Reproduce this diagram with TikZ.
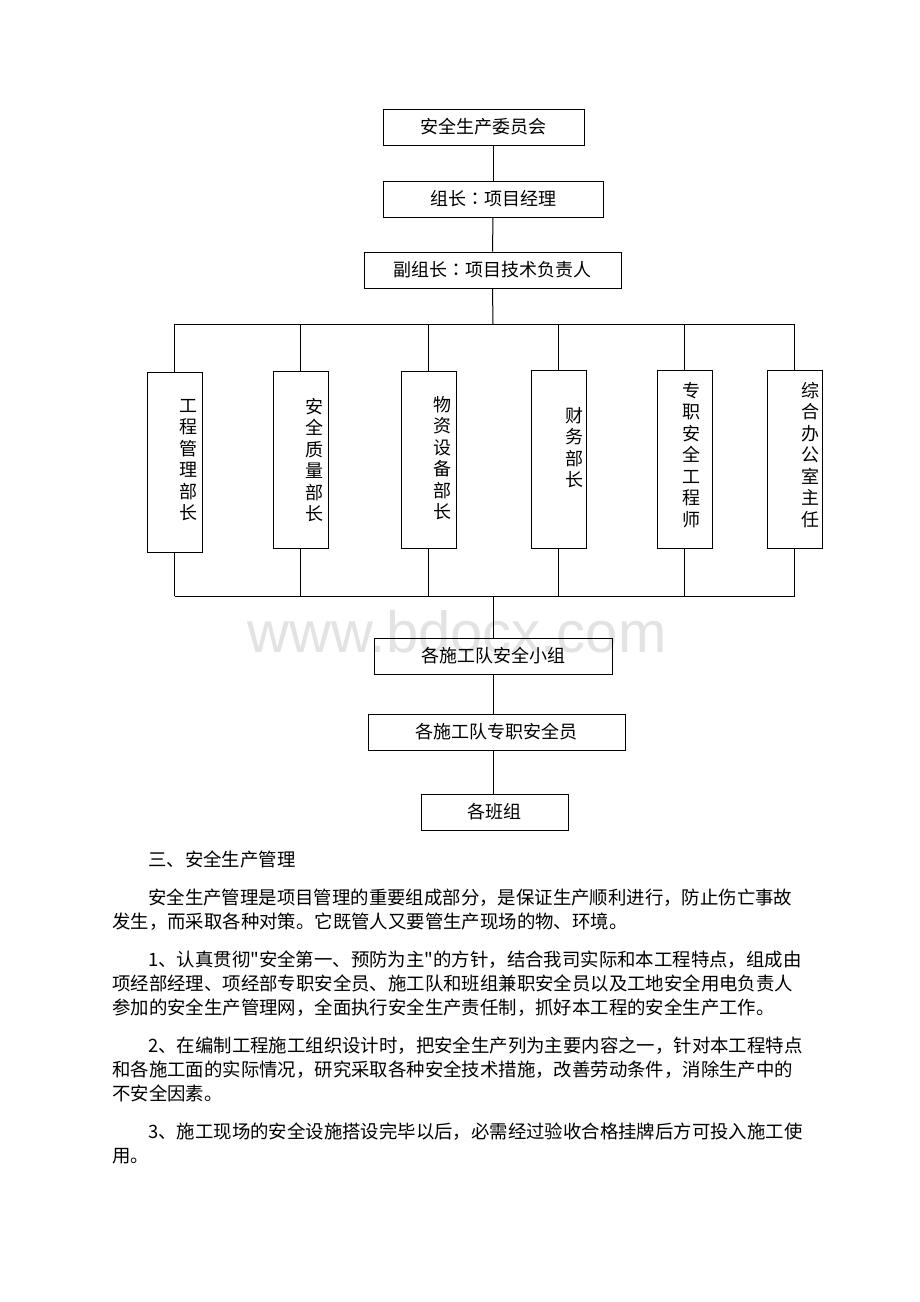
\documentclass[tikz,border=0pt]{standalone}
\usepackage{fontspec}
\newfontfamily\cjk{Noto Sans CJK SC}
\newfontfamily\cjktc{Noto Sans CJK TC}
\newfontfamily\wmfont{Liberation Sans}
\newcommand{\ccolon}{{\cjktc ：}}
\begin{document}
\begin{tikzpicture}[x=1pt,y=-1pt,
  box/.style={draw, line width=1pt, inner sep=0pt, font=\cjk\fontsize{18}{21}\selectfont, text height=15.8pt, text depth=2.2pt, minimum height=36pt},
  tallbox/.style={draw, line width=1pt, minimum width=55pt, inner sep=0pt},
  vlabel/.style={font=\cjk\fontsize{18}{21.5}\selectfont, align=center, inner sep=0pt},
  link/.style={line width=1pt},
  body/.style={anchor=base west, inner sep=0pt, font=\cjk\fontsize{18.4}{24}\selectfont},
  watermark/.style={text=black!11, font=\wmfont\fontsize{58}{58}\selectfont, anchor=base, inner sep=0pt}
]
\useasboundingbox (0,0) rectangle (920,1302);
\fill[white] (0,0) rectangle (920,1302);

\node[watermark] (wm) at (457,652) {www.bdocx.com};

% top chain
\node[box, minimum width=201pt] (c1) at (483.5,127) {安全生产委员会};
\node[box, minimum width=220pt] (c2) at (493,199) {组长\ccolon 项目经理};
\node[box, minimum width=257pt] (c3) at (492.5,270) {副组长\ccolon 项目技术负责人};

% tall boxes
\node[tallbox, minimum height=180pt] (t1) at (174.5,462.5) {};
\node[tallbox, minimum height=177pt] (t2) at (300.5,460) {};
\node[tallbox, minimum height=177pt] (t3) at (428.5,460) {};
\node[tallbox, minimum height=178pt] (t4) at (558.5,459.5) {};
\node[tallbox, minimum height=178pt] (t5) at (684.5,459.5) {};
\node[tallbox, minimum height=178pt] (t6) at (794.5,459.5) {};

\node[vlabel] (l1) at (188.5,460) {工\\程\\管\\理\\部\\长};
\node[vlabel] (l2) at (314,460) {安\\全\\质\\量\\部\\长};
\node[vlabel] (l3) at (442.5,458) {物\\资\\设\\备\\部\\长};
\node[vlabel] (l4) at (574,447.5) {财\\务\\部\\长};
\node[vlabel] (l5) at (691.5,455) {专\\职\\安\\全\\工\\程\\师};
\node[vlabel] (l6) at (810,455) {综\\合\\办\\公\\室\\主\\任};

% lower chain
\node[box, minimum width=238pt] (a) at (493,656) {各施工队安全小组};
\node[box, minimum width=257pt] (b) at (496.5,732) {各施工队专职安全员};
\node[box, minimum width=147pt] (c) at (494.5,812) {各班组};

\coordinate (busT) at (493,324);
\coordinate (busB) at (493,596);

\draw[link] (c1.south -| c2.north) -- (c2.north);
\draw[link] (c2.south) -- (c3.north);
\draw[link] (c3.south) -- (busT);
\draw[link] (t1.north |- busT) -- (t6.north |- busT);
\foreach \t in {t1,t2,t3,t4,t5,t6} {
  \draw[link] (\t.north |- busT) -- (\t.north);
  \draw[link] (\t.south) -- (\t.south |- busB);
}
\draw[link] (t1.south |- busB) -- (t6.south |- busB);
\draw[link] (busB) -- (a.north -| busB);
\draw[link] (a.south -| busB) -- (b.north -| busB);
\draw[link] (b.south -| busB) -- (c.north -| busB);

% body text
\node[body] (h) at (148,866) {三、安全生产管理};
\node[body] (p1a) at (148,904) {安全生产管理是项目管理的重要组成部分，是保证生产顺利进行，防止伤亡事故};
\node[body] (p1b) at (112,928) {发生，而采取各种对策。它既管人又要管生产现场的物、环境。};
\node[body] (p2a) at (148,966) {1、认真贯彻"安全第一、预防为主"的方针，结合我司实际和本工程特点，组成由};
\node[body] (p2b) at (112,990) {项经部经理、项经部专职安全员、施工队和班组兼职安全员以及工地安全用电负责人};
\node[body] (p2c) at (112,1014) {参加的安全生产管理网，全面执行安全生产责任制，抓好本工程的安全生产工作。};
\node[body] (p3a) at (148,1052) {2、在编制工程施工组织设计时，把安全生产列为主要内容之一，针对本工程特点};
\node[body] (p3b) at (112,1076) {和各施工面的实际情况，研究采取各种安全技术措施，改善劳动条件，消除生产中的};
\node[body] (p3c) at (112,1100) {不安全因素。};
\node[body] (p4a) at (148,1138) {3、施工现场的安全设施搭设完毕以后，必需经过验收合格挂牌后方可投入施工使};
\node[body] (p4b) at (112,1162) {用。};
\end{tikzpicture}
\end{document}
